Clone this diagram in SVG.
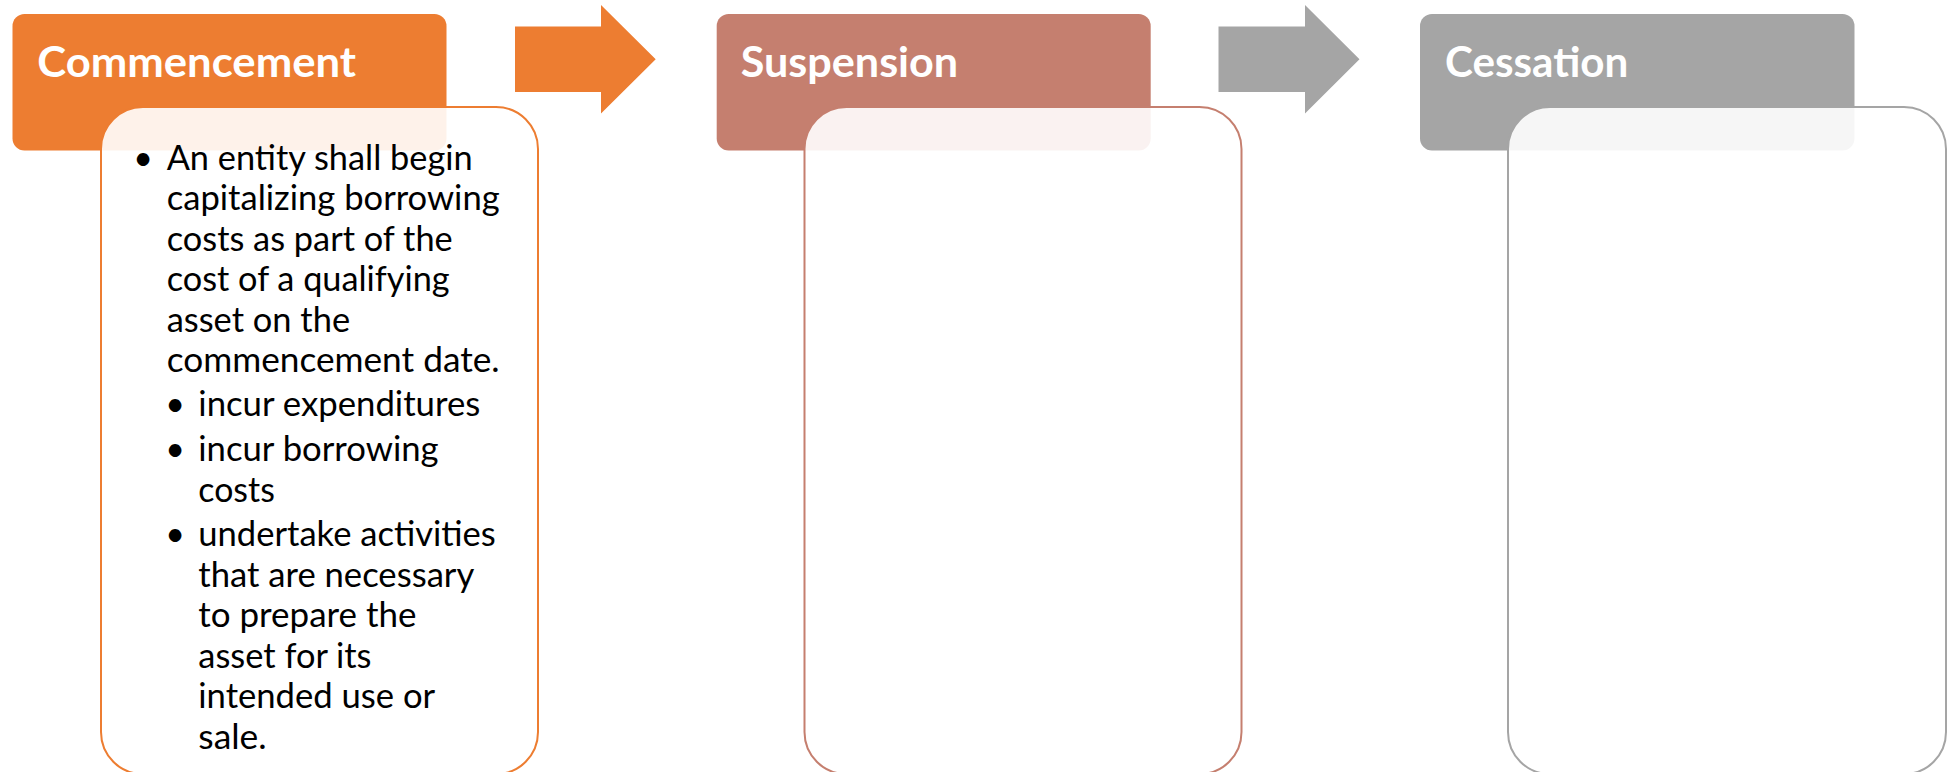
<svg xmlns="http://www.w3.org/2000/svg" width="1950" height="772" viewBox="0 0 1950 772">
  <style>
    .head { stroke: none; }
    .title { font-family: Lato, "Open Sans", "Liberation Sans", sans-serif; font-weight: bold; font-size: 42px; fill: #ffffff; }
    .card { fill: #ffffff; fill-opacity: 0.9; stroke-width: 2; }
    .body { font-family: Lato, "Open Sans", "Liberation Sans", sans-serif; font-size: 34px; fill: #000000; }
    .arrow { stroke: none; }
  </style>

  <rect width="1950" height="772" fill="#ffffff"/>

  <!-- step arrows between the stages -->
  <g id="connectors">
    <path class="arrow" fill="#ED7D31" d="M515,26.5 H601 V5 L655.7,59.3 L601,113.5 V92 H515 Z"/>
    <path class="arrow" fill="#A5A5A5" d="M1218.5,26.5 H1305 V5 L1359.5,59.3 L1305,113.5 V92 H1218.5 Z"/>
  </g>

  <!-- stage 1 -->
  <g id="commencement">
    <rect class="head" x="12.5" y="14" width="434" height="136.5" rx="12" fill="#ED7D31"/>
    <text class="title" x="37.3" y="76.7" textLength="318.7" lengthAdjust="spacingAndGlyphs">Commencement</text>
    <rect class="card" x="101" y="107" width="437" height="667" rx="42" stroke="#ED7D31"/>
    <g class="body">
      <text x="143" y="169.5" text-anchor="middle">•</text>
      <text x="166.7" y="169.5" textLength="306" lengthAdjust="spacingAndGlyphs">An entity shall begin</text>
      <text x="166.7" y="210" textLength="333" lengthAdjust="spacingAndGlyphs">capitalizing borrowing</text>
      <text x="166.7" y="250.5" textLength="286" lengthAdjust="spacingAndGlyphs">costs as part of the</text>
      <text x="166.7" y="291" textLength="283" lengthAdjust="spacingAndGlyphs">cost of a qualifying</text>
      <text x="166.7" y="331.5" textLength="183.4" lengthAdjust="spacingAndGlyphs">asset on the</text>
      <text x="166.7" y="372" textLength="333" lengthAdjust="spacingAndGlyphs">commencement date.</text>

      <text x="175" y="416" text-anchor="middle">•</text>
      <text x="198.3" y="416" textLength="282" lengthAdjust="spacingAndGlyphs">incur expenditures</text>
      <text x="175" y="461" text-anchor="middle">•</text>
      <text x="198.3" y="461" textLength="240.3" lengthAdjust="spacingAndGlyphs">incur borrowing</text>
      <text x="198.3" y="501.5" textLength="76.5" lengthAdjust="spacingAndGlyphs">costs</text>
      <text x="175" y="546" text-anchor="middle">•</text>
      <text x="198.3" y="546" textLength="297.5" lengthAdjust="spacingAndGlyphs">undertake activities</text>
      <text x="198.3" y="586.5" textLength="276" lengthAdjust="spacingAndGlyphs">that are necessary</text>
      <text x="198.3" y="627" textLength="218.1" lengthAdjust="spacingAndGlyphs">to prepare the</text>
      <text x="198.3" y="667.5" textLength="173.2" lengthAdjust="spacingAndGlyphs">asset for its</text>
      <text x="198.3" y="708" textLength="236.9" lengthAdjust="spacingAndGlyphs">intended use or</text>
      <text x="198.3" y="748.5" textLength="68.4" lengthAdjust="spacingAndGlyphs">sale.</text>
    </g>
  </g>

  <!-- stage 2 -->
  <g id="suspension">
    <rect class="head" x="716.7" y="14" width="434" height="136.5" rx="12" fill="#C57F6F"/>
    <text class="title" x="740.7" y="76.7" textLength="217.5" lengthAdjust="spacingAndGlyphs">Suspension</text>
    <rect class="card" x="804.5" y="107" width="437" height="667" rx="42" stroke="#C57F6F"/>
  </g>

  <!-- stage 3 -->
  <g id="cessation">
    <rect class="head" x="1420" y="14" width="434.5" height="136.5" rx="12" fill="#A5A5A5"/>
    <text class="title" x="1445" y="76.7" textLength="183.3" lengthAdjust="spacingAndGlyphs">Cessation</text>
    <rect class="card" x="1508" y="107" width="438" height="667" rx="42" stroke="#A5A5A5"/>
  </g>
</svg>
